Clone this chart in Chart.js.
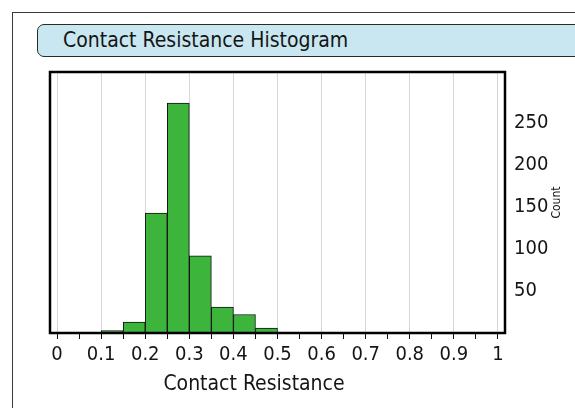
<!DOCTYPE html>
<html>
<head>
<meta charset="utf-8">
<script src="https://cdn.jsdelivr.net/npm/chart.js@4"></script>
<style>
  body { margin: 0; width: 575px; height: 408px; overflow: hidden; position: relative; background: #fff;
         font-family: "Liberation Sans Narrow", "DejaVu Sans Condensed", sans-serif; }
  #frame { position: absolute; left: 12px; top: 12px; width: 620px; height: 440px; border: 1.5px solid #3a3a3a; }
  #title { position: absolute; left: 37px; top: 24px; width: 560px; height: 33px; box-sizing: border-box;
           border: 1px solid #2a2a2a; border-radius: 7px; background: #c8e7f1;
           font-size: 21px; line-height: 31px; padding-left: 25px; color: #151515; }
  #c { position: absolute; left: 0; top: 0; }
</style>
</head>
<body>
<div id="frame"></div>
<div id="title">Contact Resistance Histogram</div>
<canvas id="c" width="575" height="408"></canvas>
<script>
// histogram bins (width 0.05), centers and counts
var binCenters = [0.025, 0.075, 0.125, 0.175, 0.225, 0.275, 0.325, 0.375, 0.425, 0.475,
                  0.525, 0.575, 0.625, 0.675, 0.725, 0.775, 0.825, 0.875, 0.925, 0.975];
var counts     = [0, 0, 3, 13, 143, 274, 92, 31, 22, 6,
                  0, 0, 0, 0, 0, 0, 0, 0, 0, 0];
var xTicks = [0, 0.05, 0.1, 0.15, 0.2, 0.25, 0.3, 0.35, 0.4, 0.45, 0.5,
              0.55, 0.6, 0.65, 0.7, 0.75, 0.8, 0.85, 0.9, 0.95, 1];
var yTicks = [50, 100, 150, 200, 250];
var xTitle = 'Contact Resistance';
var yTitle = 'Count';

var font = '"Liberation Sans Narrow", "DejaVu Sans Condensed", sans-serif';

function isMajor(v) {
  return Math.abs(v * 10 - Math.round(v * 10)) < 1e-6;
}

// box round the plot plus the two axis titles
var extras = {
  id: 'extras',
  afterDatasetsDraw: function(chart) {
    var ctx = chart.ctx, a = chart.chartArea;
    ctx.save();
    ctx.strokeStyle = '#000';
    ctx.lineWidth = 2.5;
    ctx.strokeRect(a.left, a.top, a.right - a.left, a.bottom - a.top);
    ctx.restore();
  },
  afterDraw: function(chart) {
    var ctx = chart.ctx, a = chart.chartArea;
    ctx.save();
    ctx.fillStyle = '#151515';
    ctx.textAlign = 'center';
    ctx.textBaseline = 'middle';
    ctx.font = '21px ' + font;
    ctx.fillText(xTitle, a.left + 204, 385);
    ctx.translate(a.right + 52, (a.top + a.bottom) / 2);
    ctx.rotate(-Math.PI / 2);
    ctx.font = '12px ' + font;
    ctx.fillText(yTitle, 0, 0);
    ctx.restore();
  }
};

var data = binCenters.map(function(x, i) { return { x: x, y: counts[i] }; });

new Chart(document.getElementById('c'), {
  type: 'bar',
  data: {
    datasets: [{
      data: data,
      backgroundColor: '#3db53d',
      borderColor: '#111',
      borderWidth: 1,
      barPercentage: 1,
      categoryPercentage: 1
    }]
  },
  options: {
    responsive: false,
    animation: false,
    layout: { padding: { left: 50, top: 72, right: 0, bottom: 0 } },
    plugins: { legend: { display: false }, tooltip: { enabled: false } },
    scales: {
      x: {
        type: 'linear',
        min: -0.016,
        max: 1.016,
        offset: false,
        afterBuildTicks: function(s) { s.ticks = xTicks.map(function(v) { return { value: v }; }); },
        afterFit: function(s) { s.height = 75; },
        border: { display: false },
        grid: {
          offset: false,
          color: function(c) { return c.tick && isMajor(c.tick.value) ? '#d6d6d6' : 'rgba(0,0,0,0)'; },
          tickColor: '#111',
          tickLength: 6,
          lineWidth: 1
        },
        ticks: {
          autoSkip: false,
          maxRotation: 0,
          padding: 4,
          color: '#151515',
          font: { family: font, size: 20 },
          callback: function(v) { return isMajor(v) ? String(+v.toFixed(1)) : ''; }
        }
      },
      y: {
        position: 'right',
        min: 0,
        max: 311,
        afterBuildTicks: function(s) { s.ticks = yTicks.map(function(v) { return { value: v }; }); },
        afterFit: function(s) { s.width = 70; },
        border: { display: false },
        grid: { display: false, drawTicks: false },
        ticks: {
          padding: 9,
          color: '#151515',
          font: { family: font, size: 20 }
        }
      }
    }
  },
  plugins: [extras]
});
</script>
</body>
</html>
